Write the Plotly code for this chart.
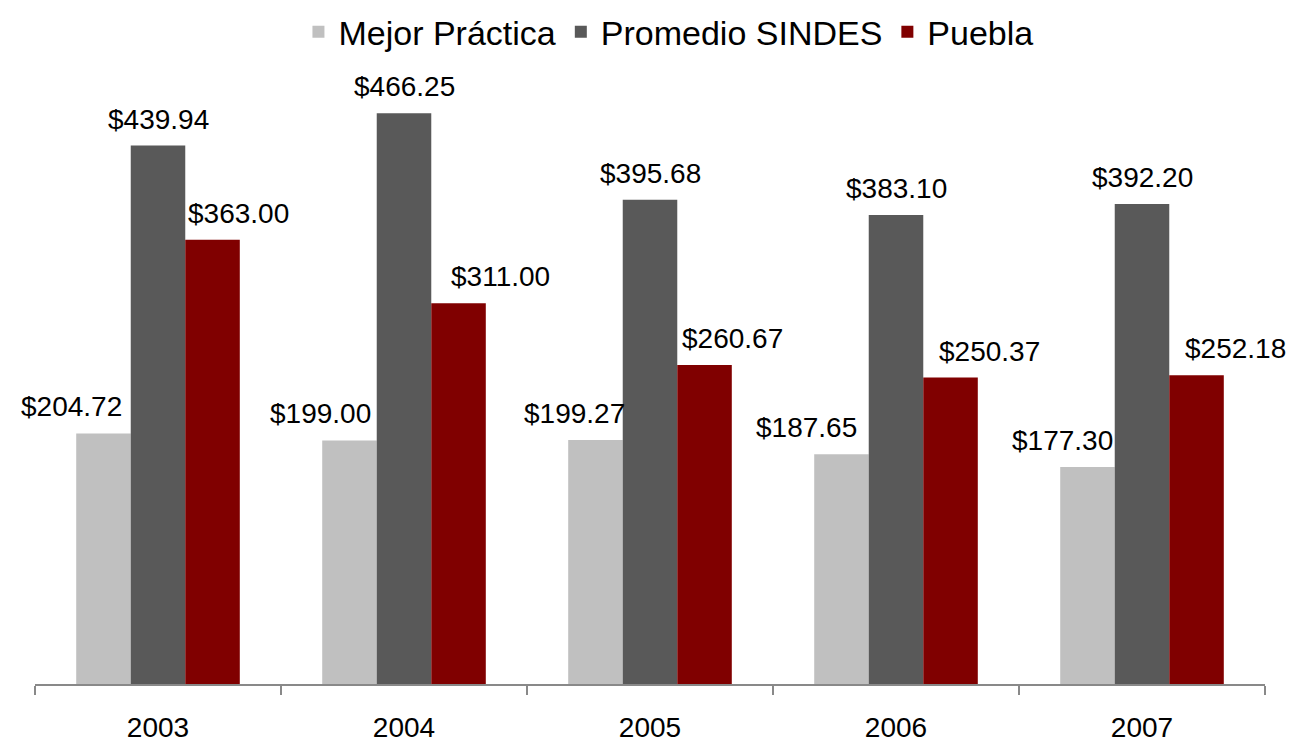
import plotly.graph_objects as go

years = ["2003", "2004", "2005", "2006", "2007"]
mejor = [204.72, 199.00, 199.27, 187.65, 177.30]
promedio = [439.94, 466.25, 395.68, 383.10, 392.20]
puebla = [363.00, 311.00, 260.67, 250.37, 252.18]
series_names = ["Mejor Práctica", "Promedio SINDES", "Puebla"]

colors = ["#C0C0C0", "#595959", "#800000"]
FONT = "Liberation Sans, Arial, sans-serif"

# style: horizontal nudges of labels (px) relative to bar centers
bar_px = 54.5
label_nudge = [
    [-32, -29, -21, -35, -25],
    [0, 0, 0, 0, 0],
    [26, 42, 28, 39, 39],
]

fig = go.Figure()
all_series = [mejor, promedio, puebla]
for name, vals, c in zip(series_names, all_series, colors):
    fig.add_trace(go.Bar(x=years, y=vals, name=name, marker_color=c,
                         marker_line_width=0))

annotations = []
for si, vals in enumerate(all_series):
    for ci, v in enumerate(vals):
        annotations.append(dict(
            x=ci, y=v, xref="x", yref="y",
            text=f"${v:,.2f}", showarrow=False,
            xanchor="center", yanchor="bottom",
            xshift=(si - 1) * bar_px + label_nudge[si][ci], yshift=9,
            font=dict(family=FONT, size=28, color="black"),
        ))

fig.update_layout(
    width=1281, height=734,
    margin=dict(l=27, r=24, t=64, b=58, autoexpand=False),
    paper_bgcolor="white", plot_bgcolor="white",
    barmode="group", bargap=0.335, bargroupgap=0,
    font=dict(family=FONT, size=28, color="black"),
    legend=dict(orientation="h", x=0.515, xanchor="center", y=1.065,
                yanchor="middle", font=dict(family=FONT, size=34, color="black"),
                itemwidth=30, tracegroupgap=0),
    annotations=annotations,
    showlegend=True,
)
fig.update_xaxes(type="category", range=[-0.5, len(years) - 0.5],
                 showline=True, linecolor="#898989", linewidth=1.5,
                 ticks="outside", tickson="boundaries", ticklen=9,
                 tickcolor="#898989", tickwidth=1.5, showgrid=False,
                 tickangle=0, ticklabelstandoff=18,
                 tickfont=dict(family=FONT, size=28, color="black"))
fig.update_yaxes(range=[0, 500], visible=False, showgrid=False)

fig.write_html("out.html")
